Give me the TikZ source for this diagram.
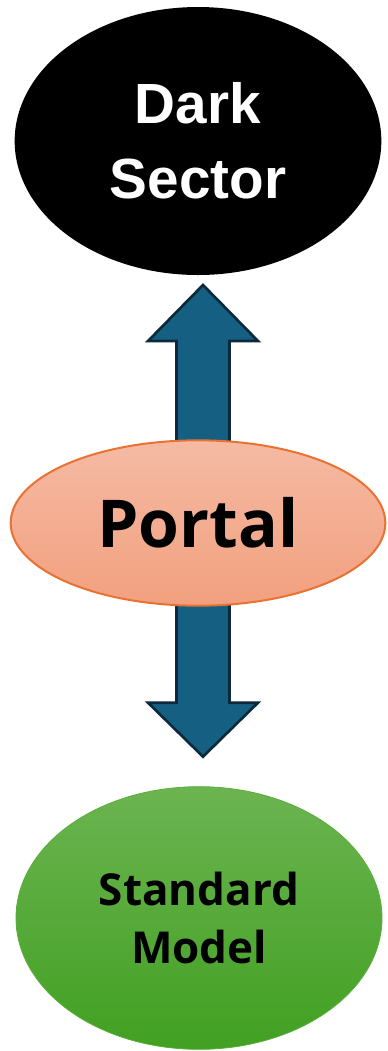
\documentclass[tikz,border=0pt]{standalone}
\usepackage{fontspec}
\setmainfont{Open Sans}
\newfontfamily\arialbold{Liberation Sans}
\usetikzlibrary{calc,shapes.geometric}
\definecolor{arrowfill}{HTML}{156082}
\definecolor{arrowline}{HTML}{0C2A3B}
\definecolor{portalline}{HTML}{E97132}
\definecolor{portaltop}{HTML}{F5BAA3}
\definecolor{portalbot}{HTML}{F2A07F}
\definecolor{smtop}{HTML}{6CB451}
\definecolor{smbot}{HTML}{41A022}
\definecolor{smline}{HTML}{5AAE3A}
\begin{document}
\begin{tikzpicture}[x=0.75pt,y=-0.75pt,
  blob/.style={ellipse,inner sep=0pt,outer sep=0pt,align=center},
  blockarrow/.style={fill=arrowfill,draw=arrowline,line width=2pt,line join=miter}]
\useasboundingbox (0,0) rectangle (388,1051);

% the two sectors
\node[blob,fill=black,text=white,minimum width=275pt,minimum height=201pt,
      font=\arialbold\bfseries\fontsize{42.5}{56}\selectfont] (dark) at (198,141) {Dark\\Sector};
\node[blob,top color=smtop,bottom color=smbot,draw=smline,line width=0.6pt,
      minimum width=274.5pt,minimum height=197pt,
      font=\bfseries\fontsize{33}{43}\selectfont] (sm) at (199,918) {Standard\\Model};

% double block arrow linking them, passing behind the portal
\coordinate (tip1) at ($(dark.south)+(5,10)$);
\coordinate (tip2) at ($(sm.north)+(4,-30)$);
\coordinate (hb1) at ($(tip1)+(0,56)$);
\coordinate (hb2) at ($(tip2)+(0,-54)$);
\draw[blockarrow] (tip1) -- ($(hb1)+(55,0)$) -- ($(hb1)+(26.5,0)$) -- ($(hb2)+(26.5,0)$)
  -- ($(hb2)+(55,0)$) -- (tip2) -- ($(hb2)+(-55,0)$) -- ($(hb2)+(-26.5,0)$)
  -- ($(hb1)+(-26.5,0)$) -- ($(hb1)+(-55,0)$) -- cycle;

% the portal
\node[blob,top color=portaltop,bottom color=portalbot,draw=portalline,line width=1.5pt,
      minimum width=281pt,minimum height=124pt,
      font=\bfseries\fontsize{49.5}{60}\selectfont] (portal) at (198,523) {Portal};
\end{tikzpicture}
\end{document}
